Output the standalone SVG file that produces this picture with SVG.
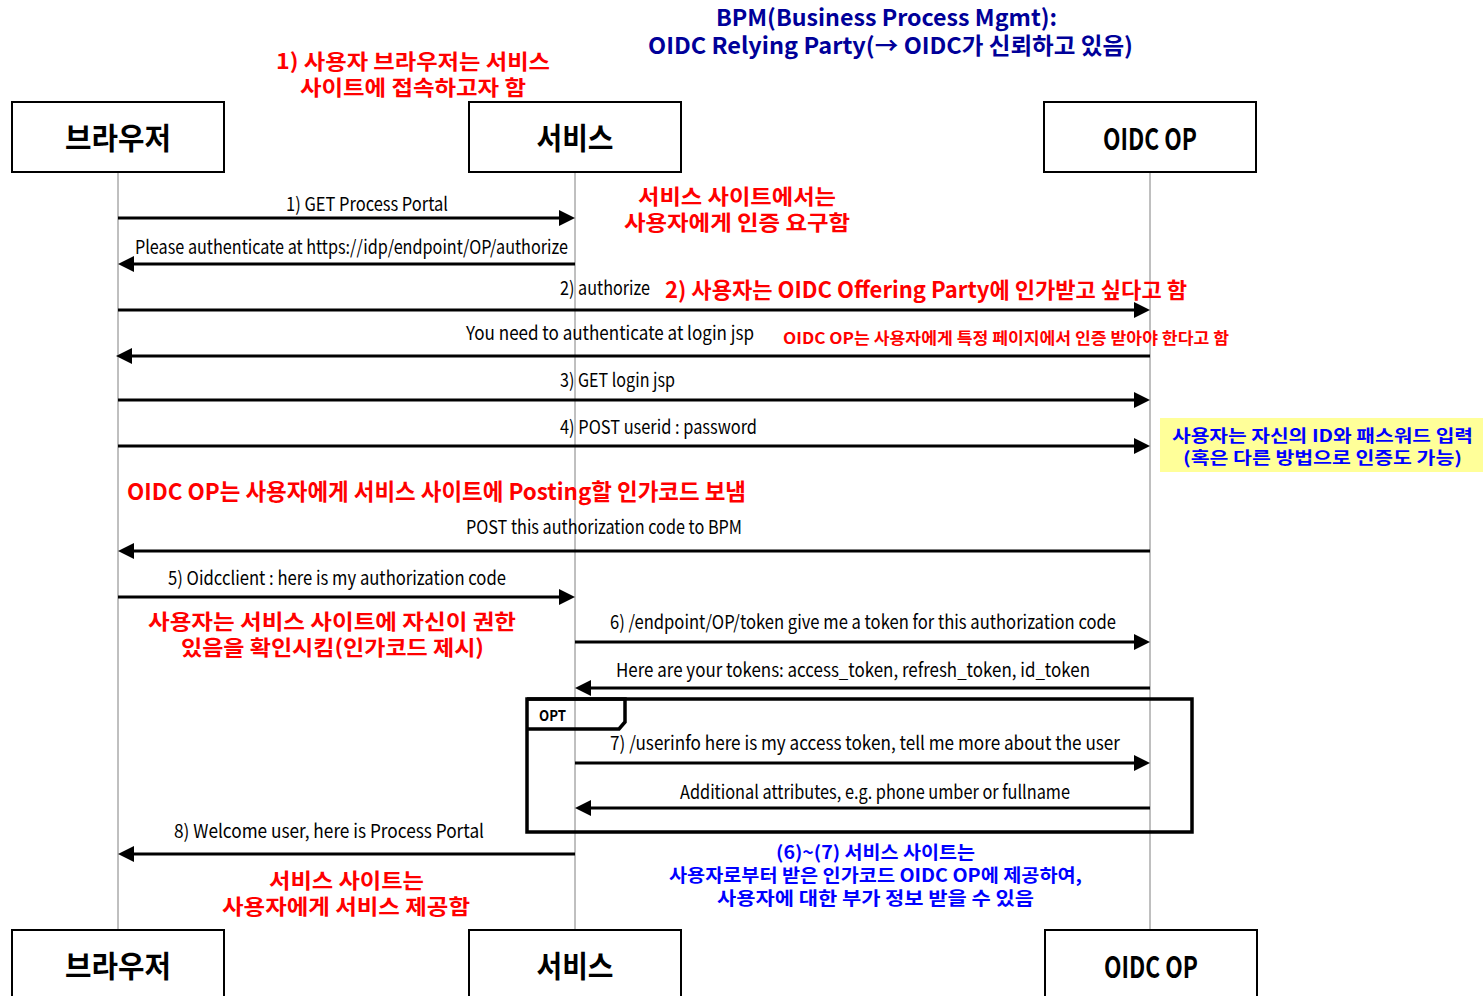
<svg xmlns="http://www.w3.org/2000/svg" width="1483" height="996" viewBox="0 0 1483 996">
<style>
.box{fill:#fff;stroke:#000;stroke-width:2}
.life{stroke:#808080;stroke-width:1}
.msg{stroke:#000;stroke-width:3;fill:none}
.nl{font-family:"Noto Sans CJK KR","Liberation Sans",sans-serif;font-size:30px;font-weight:bold;fill:#000}
.ml{font-family:"Noto Sans CJK KR","Liberation Sans",sans-serif;font-size:19px;fill:#000}
.red{font-family:"Noto Sans CJK KR","Liberation Sans",sans-serif;font-weight:bold;fill:#ff0000}
.blue{font-family:"Noto Sans CJK KR","Liberation Sans",sans-serif;font-weight:bold;fill:#0000ff}
.navy{font-family:"Noto Sans CJK KR","Liberation Sans",sans-serif;font-weight:bold;fill:#000099;font-size:23px}
</style>
<defs>
<marker id="ah" viewBox="0 0 16 16" refX="12" refY="8" markerWidth="16" markerHeight="16" markerUnits="userSpaceOnUse" orient="auto">
<path d="M0,0 L16,8 L0,16 z" fill="#000"/>
</marker>
</defs>
<rect width="1483" height="996" fill="#fff"/>

<g id="lifelines">
<line class="life" x1="118" y1="172" x2="118" y2="930"/>
<line class="life" x1="575" y1="172" x2="575" y2="930"/>
<line class="life" x1="1150" y1="172" x2="1150" y2="930"/>
</g>

<g id="node-browser">
<rect class="box" x="12" y="102" width="212" height="70"/>
<text class="nl" x="118" y="149" text-anchor="middle" textLength="106" lengthAdjust="spacingAndGlyphs">브라우저</text>
</g>
<g id="node-service">
<rect class="box" x="469" y="102" width="212" height="70"/>
<text class="nl" x="575" y="149" text-anchor="middle" textLength="77" lengthAdjust="spacingAndGlyphs">서비스</text>
</g>
<g id="node-oidc">
<rect class="box" x="1044" y="102" width="212" height="70"/>
<text class="nl" x="1150" y="150" text-anchor="middle" textLength="94" lengthAdjust="spacingAndGlyphs">OIDC OP</text>
</g>
<g id="node-browser-bottom">
<rect class="box" x="12" y="930" width="212" height="70"/>
<text class="nl" x="118" y="977" text-anchor="middle" textLength="106" lengthAdjust="spacingAndGlyphs">브라우저</text>
</g>
<g id="node-service-bottom">
<rect class="box" x="469" y="930" width="212" height="70"/>
<text class="nl" x="575" y="977" text-anchor="middle" textLength="77" lengthAdjust="spacingAndGlyphs">서비스</text>
</g>
<g id="node-oidc-bottom">
<rect class="box" x="1045" y="930" width="212" height="70"/>
<text class="nl" x="1151" y="978" text-anchor="middle" textLength="94" lengthAdjust="spacingAndGlyphs">OIDC OP</text>
</g>

<g id="opt-fragment">
<rect x="527" y="699" width="665" height="133" fill="none" stroke="#000" stroke-width="3.5"/>
<path d="M527,699 H625 V722 L619,729 H527" fill="none" stroke="#000" stroke-width="3.5"/>
<text x="539" y="721" font-family="Noto Sans CJK KR, Liberation Sans, sans-serif" font-size="15" font-weight="bold" textLength="27" lengthAdjust="spacingAndGlyphs">OPT</text>
</g>

<g id="connectors">
<line class="msg" x1="118" y1="218" x2="571" y2="218" marker-end="url(#ah)"/>
<line class="msg" x1="575" y1="264" x2="122" y2="264" marker-end="url(#ah)"/>
<line class="msg" x1="118" y1="310" x2="1146" y2="310" marker-end="url(#ah)"/>
<line class="msg" x1="1150" y1="356" x2="120" y2="356" marker-end="url(#ah)"/>
<line class="msg" x1="118" y1="400" x2="1146" y2="400" marker-end="url(#ah)"/>
<line class="msg" x1="118" y1="446" x2="1146" y2="446" marker-end="url(#ah)"/>
<line class="msg" x1="1150" y1="551" x2="122" y2="551" marker-end="url(#ah)"/>
<line class="msg" x1="118" y1="597" x2="571" y2="597" marker-end="url(#ah)"/>
<line class="msg" x1="575" y1="642" x2="1146" y2="642" marker-end="url(#ah)"/>
<line class="msg" x1="1150" y1="688" x2="579" y2="688" marker-end="url(#ah)"/>
<line class="msg" x1="575" y1="763" x2="1146" y2="763" marker-end="url(#ah)"/>
<line class="msg" x1="1150" y1="808" x2="579" y2="808" marker-end="url(#ah)"/>
<line class="msg" x1="575" y1="854" x2="122" y2="854" marker-end="url(#ah)"/>
</g>

<g id="message-labels">
<text class="ml" x="286" y="211" textLength="162" lengthAdjust="spacingAndGlyphs">1) GET Process Portal</text>
<text class="ml" x="135" y="254" textLength="433" lengthAdjust="spacingAndGlyphs">Please authenticate at https://idp/endpoint/OP/authorize</text>
<text class="ml" x="560" y="295" textLength="90" lengthAdjust="spacingAndGlyphs">2) authorize</text>
<text class="ml" x="466" y="340" textLength="288" lengthAdjust="spacingAndGlyphs">You need to authenticate at login jsp</text>
<text class="ml" x="560" y="387" textLength="115" lengthAdjust="spacingAndGlyphs">3) GET login jsp</text>
<text class="ml" x="560" y="434" textLength="197" lengthAdjust="spacingAndGlyphs">4) POST userid : password</text>
<text class="ml" x="466" y="534" textLength="276" lengthAdjust="spacingAndGlyphs">POST this authorization code to BPM</text>
<text class="ml" x="168" y="585" textLength="338" lengthAdjust="spacingAndGlyphs">5) Oidcclient : here is my authorization code</text>
<text class="ml" x="610" y="629" textLength="506" lengthAdjust="spacingAndGlyphs">6) /endpoint/OP/token give me a token for this authorization code</text>
<text class="ml" x="616" y="677" textLength="474" lengthAdjust="spacingAndGlyphs">Here are your tokens: access_token, refresh_token, id_token</text>
<text class="ml" x="610" y="750" textLength="510" lengthAdjust="spacingAndGlyphs">7) /userinfo here is my access token, tell me more about the user</text>
<text class="ml" x="680" y="799" textLength="390" lengthAdjust="spacingAndGlyphs">Additional attributes, e.g. phone umber or fullname</text>
<text class="ml" x="174" y="838" textLength="310" lengthAdjust="spacingAndGlyphs">8) Welcome user, here is Process Portal</text>
</g>

<g id="annotations">
<text class="navy"><tspan x="716" y="26" textLength="341" lengthAdjust="spacingAndGlyphs">BPM(Business Process Mgmt):</tspan><tspan x="648" y="54" textLength="485" lengthAdjust="spacingAndGlyphs">OIDC Relying Party(→ OIDC가 신뢰하고 있음)</tspan></text>

<text class="red" font-size="21"><tspan x="276" y="69" textLength="274" lengthAdjust="spacingAndGlyphs">1) 사용자 브라우저는 서비스</tspan><tspan x="300" y="95" textLength="226" lengthAdjust="spacingAndGlyphs">사이트에 접속하고자 함</tspan></text>

<text class="red" font-size="21"><tspan x="638" y="204" textLength="198" lengthAdjust="spacingAndGlyphs">서비스 사이트에서는</tspan><tspan x="624" y="230" textLength="226" lengthAdjust="spacingAndGlyphs">사용자에게 인증 요구함</tspan></text>

<text class="red" font-size="22" x="665" y="298" textLength="522" lengthAdjust="spacingAndGlyphs">2) 사용자는 OIDC Offering Party에 인가받고 싶다고 함</text>
<text class="red" font-size="16" x="783" y="344" textLength="446" lengthAdjust="spacingAndGlyphs">OIDC OP는 사용자에게 특정 페이지에서 인증 받아야 한다고 함</text>

<rect x="1160" y="418" width="323" height="54" fill="#ffff99"/>
<text class="blue" font-size="17"><tspan x="1172" y="442" textLength="301" lengthAdjust="spacingAndGlyphs">사용자는 자신의 ID와 패스워드 입력</tspan><tspan x="1183" y="464" textLength="279" lengthAdjust="spacingAndGlyphs">(혹은 다른 방법으로 인증도 가능)</tspan></text>

<text class="red" font-size="23" x="127" y="500" textLength="619" lengthAdjust="spacingAndGlyphs">OIDC OP는 사용자에게 서비스 사이트에 Posting할 인가코드 보냄</text>

<text class="red" font-size="21"><tspan x="148" y="629" textLength="368" lengthAdjust="spacingAndGlyphs">사용자는 서비스 사이트에 자신이 권한</tspan><tspan x="181" y="655" textLength="303" lengthAdjust="spacingAndGlyphs">있음을 확인시킴(인가코드 제시)</tspan></text>

<text class="blue" font-size="18"><tspan x="776" y="859" textLength="199" lengthAdjust="spacingAndGlyphs">(6)~(7) 서비스 사이트는</tspan><tspan x="669" y="882" textLength="413" lengthAdjust="spacingAndGlyphs">사용자로부터 받은 인가코드 OIDC OP에 제공하여,</tspan><tspan x="717" y="905" textLength="317" lengthAdjust="spacingAndGlyphs">사용자에 대한 부가 정보 받을 수 있음</tspan></text>

<text class="red" font-size="21"><tspan x="269" y="888" textLength="155" lengthAdjust="spacingAndGlyphs">서비스 사이트는</tspan><tspan x="222" y="914" textLength="248" lengthAdjust="spacingAndGlyphs">사용자에게 서비스 제공함</tspan></text>
</g>
</svg>
